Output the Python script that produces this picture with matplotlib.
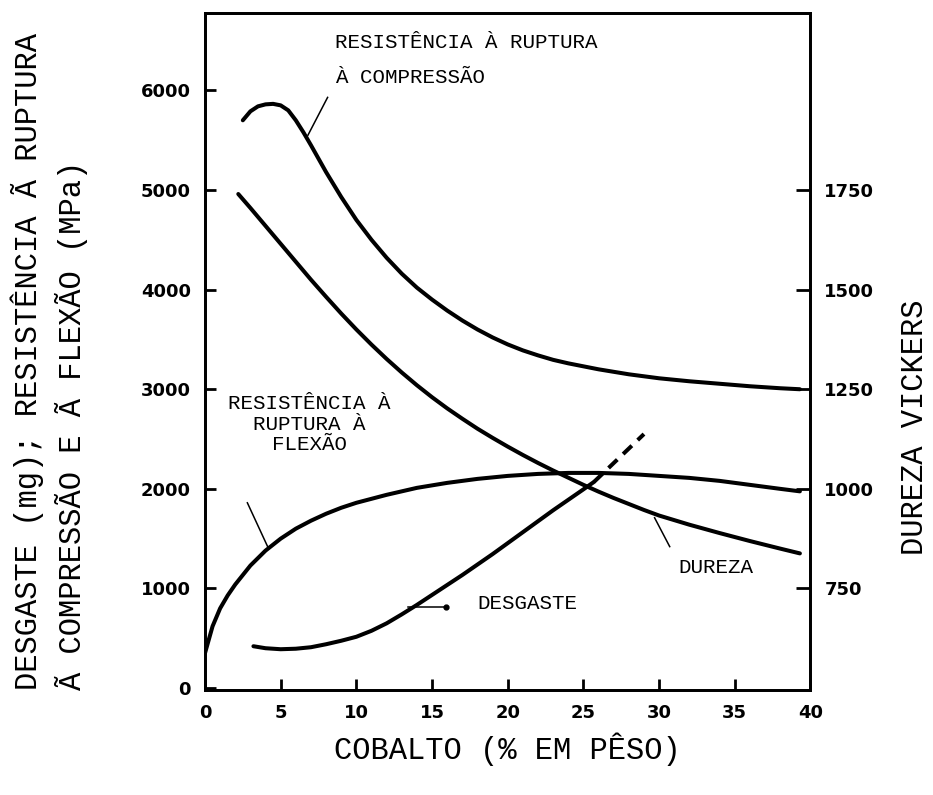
import matplotlib
matplotlib.use("Agg")
import matplotlib.pyplot as plt

# cobalt content (wt %) vs. strength (MPa), wear (mg) and Vickers hardness
comp_x = [2.5, 3, 3.5, 4, 4.5, 5, 5.5, 6, 6.5, 7, 8, 9, 10, 11, 12, 13, 14, 15, 16, 17, 18, 19, 20,
          21, 22, 23, 24, 26, 28, 30, 32, 34, 36, 38, 39.3]
comp_y = [5700, 5790, 5840, 5860, 5865, 5850, 5800, 5700, 5580, 5450, 5180, 4930, 4700, 4500, 4320,
          4160, 4020, 3900, 3790, 3690, 3600, 3520, 3450, 3390, 3340, 3295, 3260, 3200, 3150, 3110,
          3080, 3055, 3030, 3010, 3000]

flex_x = [0, 0.5, 1, 1.5, 2, 3, 4, 5, 6, 7, 8, 9, 10, 12, 14, 16, 18, 20, 22, 24, 26, 28, 30, 32, 34,
          36, 38, 39.3]
flex_y = [350, 620, 800, 930, 1040, 1230, 1380, 1500, 1600, 1680, 1750, 1810, 1860, 1940, 2010, 2060,
          2100, 2130, 2150, 2160, 2160, 2150, 2130, 2110, 2080, 2040, 2000, 1975]

wear_x = [3.2, 4, 5, 6, 7, 8, 9, 10, 11, 12, 13, 14, 15, 16, 17, 18, 19, 20, 21, 22, 23, 24, 25, 25.7]
wear_y = [420, 400, 390, 395, 410, 440, 475, 515, 575, 650, 740, 835, 935, 1035, 1135, 1240, 1345,
          1455, 1565, 1675, 1785, 1890, 1995, 2070]
wear_ext_x = [25.7, 29.0]
wear_ext_y = [2070, 2550]

hv_x = [2.2, 3, 4, 5, 6, 7, 8, 9, 10, 11, 12, 13, 14, 15, 16, 17, 18, 19, 20, 21, 22, 23, 24, 25, 26,
        27, 28, 29, 30, 32, 34, 36, 38, 39.3]
hv_y = [1740, 1705, 1660, 1615, 1570, 1525, 1482, 1440, 1400, 1362, 1326, 1292, 1260, 1230, 1202,
        1176, 1151, 1128, 1106, 1085, 1065, 1046, 1028, 1010, 993, 977, 962, 947, 933, 910, 889, 869,
        850, 838]

x_ticks = [0, 5, 10, 15, 20, 25, 30, 35, 40]
left_ticks = [0, 1000, 2000, 3000, 4000, 5000, 6000]
right_ticks = [750, 1000, 1250, 1500, 1750]

# leader lines from the labels to their curves (left-axis units)
comp_leader = ([8.1, 6.8], [5930, 5550])
flex_leader = ([2.8, 4.2], [1860, 1400])
hv_leader = ([29.7, 30.7], [1710, 1420])
wear_leader = ([13.4, 15.9], [810, 810])

LEFT_LIM = (-20, 6780)


def to_hv(v):
    return 500 + v / 4.0


mono = "Liberation Mono"
tick_font = dict(family="DejaVu Sans", weight="bold", size=13)

fig = plt.figure(figsize=(9.33, 7.95), dpi=100)
ax = fig.add_axes([0.2197, 0.132, 0.649, 0.852])
ax2 = ax.twinx()

lw = 2.9
ax.plot(comp_x, comp_y, color="black", lw=lw, solid_capstyle="round", solid_joinstyle="round")
ax.plot(flex_x, flex_y, color="black", lw=lw, solid_capstyle="round", solid_joinstyle="round")
ax.plot(wear_x, wear_y, color="black", lw=lw, solid_capstyle="round", solid_joinstyle="round")
ax.plot(wear_ext_x, wear_ext_y, color="black", lw=lw, linestyle=(0, (3, 2)))
ax2.plot(hv_x, hv_y, color="black", lw=lw, solid_capstyle="round", solid_joinstyle="round")

for xs, ys in (comp_leader, flex_leader, hv_leader):
    ax.plot(xs, ys, color="black", lw=1.1)
ax.plot(wear_leader[0], wear_leader[1], color="black", lw=1.1)
ax.plot([wear_leader[0][-1]], [wear_leader[1][-1]], "o", color="black", ms=3.5)

ax.set_xlim(0, 40)
ax.set_ylim(*LEFT_LIM)
ax2.set_ylim(to_hv(LEFT_LIM[0]), to_hv(LEFT_LIM[1]))

ax.set_xticks(x_ticks)
ax.set_yticks(left_ticks)
ax2.set_yticks(right_ticks)
ax.set_xticklabels([str(t) for t in x_ticks], **tick_font)
ax.set_yticklabels([str(t) for t in left_ticks], **tick_font)
ax2.set_yticklabels([str(t) for t in right_ticks], **tick_font)

ax.tick_params(axis="both", direction="in", length=8, width=2, pad=10)
ax2.tick_params(axis="y", direction="in", length=10, width=2, pad=10)
for a in (ax, ax2):
    for s in a.spines.values():
        s.set_linewidth(2)

txt = dict(family=mono, size=15, color="black")
ax.text(8.6, 6480, "RESISTÊNCIA À RUPTURA", ha="left", va="center", **txt)
ax.text(8.6, 6130, "À COMPRESSÃO", ha="left", va="center", **txt)
ax.text(6.9, 2650, "RESISTÊNCIA À\nRUPTURA À\nFLEXÃO", ha="center", va="center",
        linespacing=1.1, multialignment="center", **txt)
ax.text(18.0, 850, "DESGASTE", ha="left", va="center", **txt)
ax.text(31.3, 1210, "DUREZA", ha="left", va="center", **txt)

lab = dict(family=mono, size=22, color="black")
fig.text(0.029, 0.132, "DESGASTE (mg); RESISTÊNCIA Ã RUPTURA", rotation=90,
         ha="center", va="bottom", **lab)
fig.text(0.077, 0.132, "Ã COMPRESSÃO E Ã FLEXÃO (MPa)", rotation=90,
         ha="center", va="bottom", **lab)
fig.text(0.981, 0.462, "DUREZA VICKERS", rotation=90, ha="center", va="center", **lab)
fig.text(0.544, 0.057, "COBALTO (% EM PÊSO)", ha="center", va="center", **lab)

fig.savefig("out.png", dpi=100)
